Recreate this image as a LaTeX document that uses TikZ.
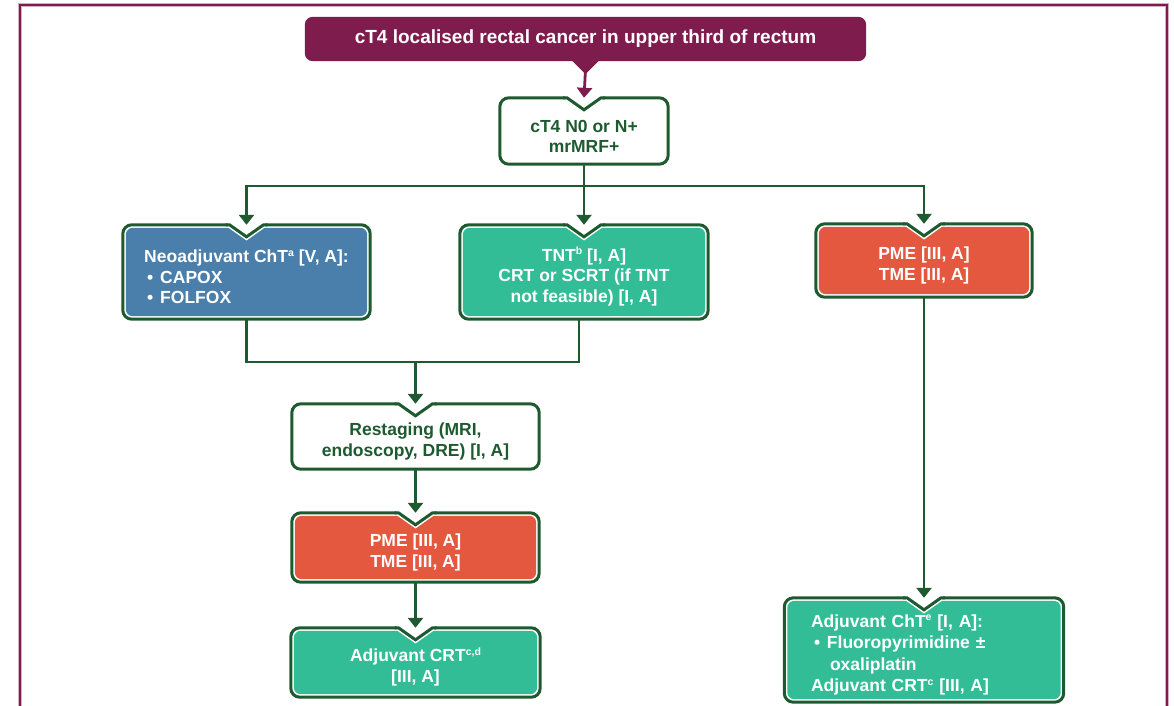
\documentclass[tikz,border=0pt]{standalone}
\usepackage{fontspec}
\setmainfont{Liberation Sans}
\usetikzlibrary{arrows.meta,calc}
\definecolor{maroon}{RGB}{126,28,78}
\definecolor{dkgreen}{RGB}{30,90,48}
\definecolor{boxblue}{RGB}{74,127,171}
\definecolor{boxteal}{RGB}{51,189,151}
\definecolor{boxred}{RGB}{228,88,64}
\pgfdeclarelayer{background}
\pgfsetlayers{background,main}
\newcommand\bul{\hspace*{3pt}\makebox[13pt][l]{\textbullet}}
\newcommand\sups[1]{\raisebox{6.5pt}{\fontsize{10.5}{10.5}\selectfont #1}}
\newcommand\tp{\rule{0pt}{23pt}}
\newcommand\nbox[2]{%
  \draw[line width=3pt, draw=dkgreen, fill=white, rounded corners=9pt]
    (#1.north west) rectangle (#1.south east);
  \fill[#2, rounded corners=7pt]
    ($(#1.north west)+(3,3)$) rectangle ($(#1.south east)+(-3,-3)$);
  \fill[white] ($(#1.north)+(-19.3,-1.7)$) -- ($(#1.north)+(19.3,-1.7)$) -- ($(#1.north)+(0,12)$) -- cycle;
  \draw[white, line width=6pt, line join=miter]
    ($(#1.north)+(-17,0)$) -- ($(#1.north)+(0,12)$) -- ($(#1.north)+(17,0)$);
  \draw[dkgreen, line width=3pt, line join=miter]
    ($(#1.north)+(-21,0)$) -- ($(#1.north)+(-17,0)$) -- ($(#1.north)+(0,12)$)
    -- ($(#1.north)+(17,0)$) -- ($(#1.north)+(21,0)$);
}
\tikzset{
  base/.style={inner sep=0pt, font=\bfseries\fontsize{17.5}{20.5}\selectfont, align=center},
  wbox/.style={base, text=dkgreen},
  cbox/.style={base, text=white},
  conn/.style={draw=dkgreen, line width=2.8pt},
  arr/.style={conn, -{Triangle[width=15pt,length=10pt]}},
}
\begin{document}
\begin{tikzpicture}[x=1pt,y=-1pt]
\useasboundingbox (0,0) rectangle (1174,705);
% frame
\draw[maroon!35, line width=3.5pt] (20,706) -- (20,5) -- (1167,5) -- (1167,706);
\draw[maroon, line width=1.8pt] (20,706) -- (20,5) -- (1167,5) -- (1167,706);

% nodes
\node[cbox, font=\bfseries\fontsize{19}{22}\selectfont, minimum width=561pt, minimum height=44pt] (top) at (585.5,39)
  {cT4 localised rectal cancer in upper third of rectum};
\node[wbox, minimum width=168pt, minimum height=66pt] (c1) at (584,131) {\tp cT4 N0 or N+\\mrMRF+};
\node[cbox, align=left, minimum width=247pt, minimum height=94pt] (neo) at (246.5,272)
  {\tp Neoadjuvant ChT\sups{a} [V, A]:\\\bul CAPOX\\\bul FOLFOX};
\node[cbox, minimum width=248pt, minimum height=94pt] (tnt) at (584,272)
  {\tp TNT\sups{b} [I, A]\\CRT or SCRT (if TNT\\not feasible) [I, A]};
\node[cbox, minimum width=216pt, minimum height=73pt] (pmeR) at (924,260.5) {\tp PME [III, A]\\TME [III, A]};
\node[wbox, minimum width=247pt, minimum height=65pt] (rest) at (415.5,436.5)
  {\tp Restaging (MRI,\\endoscopy, DRE) [I, A]};
\node[cbox, minimum width=247pt, minimum height=69pt] (pmeL) at (415.5,547.5) {\tp PME [III, A]\\TME [III, A]};
\node[cbox, minimum width=249pt, minimum height=69pt] (crt) at (415.5,662.5)
  {\tp Adjuvant CRT\sups{c,d}\\[0pt][III, A]};
\node[cbox, align=left, text width=226pt, minimum width=279pt, minimum height=104pt,
      font=\bfseries\fontsize{17.5}{21.5}\selectfont] (cht) at (924,650)
  {\tp Adjuvant ChT\sups{e} [I, A]:\\\bul Fluoropyrimidine ±\\\hspace*{19pt}oxaliplatin\\Adjuvant CRT\sups{c} [III, A]};

% shapes
\begin{pgfonlayer}{background}
  \fill[maroon, rounded corners=8pt] (top.north west) rectangle (top.south east);
  \fill[maroon] ($(top.south)+(-14,-1)$) -- ($(top.south)+(14,-1)$) -- ($(top.south)+(0,13)$) -- cycle;
  \nbox{c1}{white}
  \nbox{neo}{boxblue}
  \nbox{tnt}{boxteal}
  \nbox{pmeR}{boxred}
  \nbox{rest}{white}
  \nbox{pmeL}{boxred}
  \nbox{crt}{boxteal}
  \nbox{cht}{boxteal}
\end{pgfonlayer}

% connectors
\coordinate (j1) at (c1.south |- 0,186);
\coordinate (j2) at (rest.north |- 0,362);
\draw[maroon, line width=2.8pt, -{Triangle[width=15pt,length=10pt]}] ($(top.south)+(0,8)$) -- (c1.north);
\draw[conn] (c1.south) -- (j1);
\draw[arr] (j1) -| (neo.north);
\draw[arr] (j1) -- (tnt.north);
\draw[arr] (j1) -| (pmeR.north);
\draw[conn] (neo.south) |- (j2) -| ($(tnt.south)+(-5,0)$);
\draw[arr] (j2) -- (rest.north);
\draw[arr] (rest.south) -- (pmeL.north);
\draw[arr] (pmeL.south) -- (crt.north);
\draw[arr] (pmeR.south) -- (cht.north);
\end{tikzpicture}
\end{document}
